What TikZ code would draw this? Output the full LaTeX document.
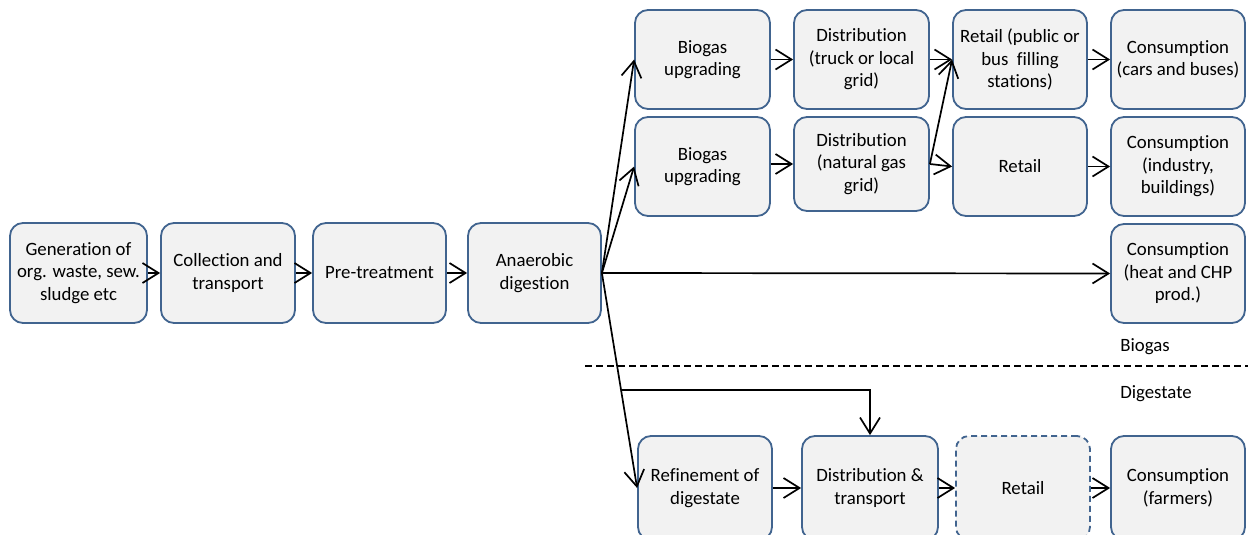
\documentclass[tikz,border=0pt]{standalone}
\usepackage{fontspec}
\setmainfont[Ligatures=NoCommon]{Carlito}
\usetikzlibrary{arrows.meta,calc}
\definecolor{boxfill}{HTML}{F2F2F2}
\definecolor{boxline}{HTML}{41648F}
\begin{document}
\begin{tikzpicture}[x=1pt,y=-1pt,
  box/.style={draw=boxline,fill=boxfill,line width=1.8pt,rounded corners=13pt,
    minimum width=134pt,minimum height=100pt,align=center,inner sep=2pt,
    font=\fontsize{18.8}{22.5}\selectfont},
  arr/.style={draw=black,line width=1.7pt,-{Straight Barb[length=16pt,width=20pt,line width=1.7pt]}},
  lbl/.style={font=\fontsize{18.8}{22}\selectfont}]
\useasboundingbox (0,0) rectangle (1248,535);
\node[box,minimum width=137pt] (gen) at (78.5,273) {Generation of\\org. waste, sew.\\sludge etc};
\node[box] (col) at (228,273) {Collection and\\transport};
\node[box,minimum width=133pt] (pre) at (379.5,273) {Pre-treatment};
\node[box,minimum width=133pt] (ad) at (534.5,273) {Anaerobic\\digestion};
\node[box,minimum width=135pt,minimum height=99pt] (bu1) at (702.5,59.5) {Biogas\\upgrading};
\node[box,minimum width=135pt,minimum height=99pt] (d1) at (861.5,59.5) {Distribution\\(truck or local\\grid)};
\node[box,minimum width=134pt,minimum height=99pt] (r1) at (1020,59.5) {Retail (public or\\bus~ filling\\stations)};
\node[box,minimum width=134pt,minimum height=99pt] (c1) at (1178,59.5) {Consumption\\(cars and buses)};
\node[box,minimum width=135pt,minimum height=99pt] (bu2) at (702.5,166.5) {Biogas\\upgrading};
\node[box,minimum width=135pt,minimum height=94pt] (d2) at (861.5,164) {Distribution\\(natural gas\\grid)};
\node[box,minimum width=134pt,minimum height=99pt] (r2) at (1020,166.5) {Retail};
\node[box,minimum width=134pt,minimum height=99pt] (c2) at (1178,166.5) {Consumption\\(industry,\\buildings)};
\node[box,minimum width=134pt,minimum height=99pt] (c3) at (1178,273.5) {Consumption\\(heat and CHP\\prod.)};
\node[box,minimum width=134pt,minimum height=104pt] (ref) at (705,488) {Refinement of\\digestate};
\node[box,minimum width=136pt,minimum height=104pt] (dt) at (870,488) {Distribution \&\\transport};
\node[box,dashed,dash pattern=on 6pt off 4pt,minimum width=134pt,minimum height=104pt] (r3) at (1023,488) {Retail};
\node[box,minimum width=134pt,minimum height=104pt] (c4) at (1178,488) {Consumption\\(farmers)};
\node[lbl] (tb) at (1145,347) {Biogas};
\node[lbl] (td) at (1156,394) {Digestate};
\coordinate (dl) at (585,366);
\coordinate (dr) at (1248,366);
\draw[line width=1.7pt,dash pattern=on 7pt off 4pt] (dl) -- (dr);
\draw[arr] (gen) -- (col);
\draw[arr] (col) -- (pre);
\draw[arr] (pre) -- (ad);
\draw[arr] (ad.east) -- (bu1.west);
\draw[arr] (ad.east) -- (bu2.west);
\draw[arr] (ad.east) -- (c3.west);
\draw[arr] (ad.east) -- (ref.west);
\coordinate (br) at ($(ad.east)!0.545!(ref.west)$);
\draw[arr] (br) -| (dt.north);
\draw[arr] (bu1) -- (d1);
\draw[arr] (d1.east) -- (r1.west);
\draw[arr] (r1) -- (c1);
\draw[arr] (bu2.east |- d2.east) -- (d2.west);
\draw[arr] (d2.east) -- (r1.west);
\draw[arr] (d2.east) -- (r2.west);
\draw[arr] (r2) -- (c2);
\draw[arr] (ref) -- (dt);
\draw[arr] (dt) -- (r3);
\draw[arr] (r3) -- (c4);
\end{tikzpicture}
\end{document}
